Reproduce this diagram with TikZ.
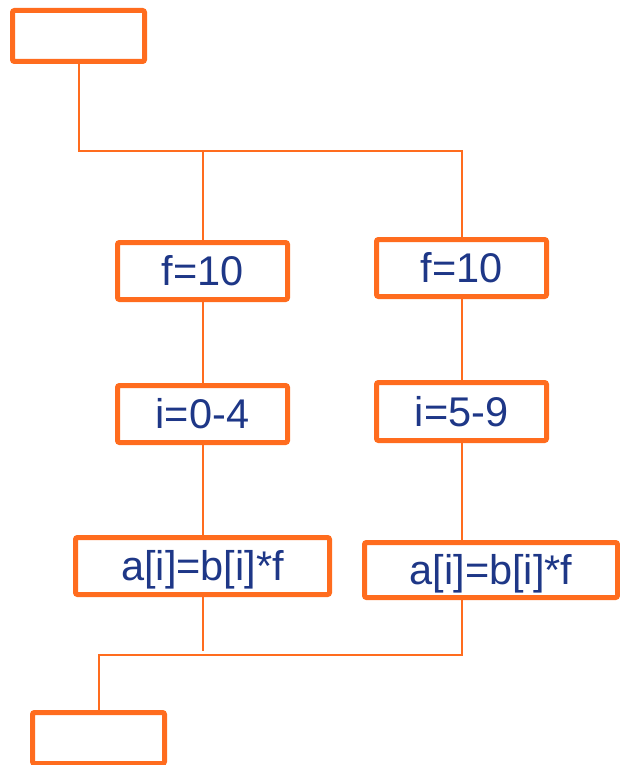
\documentclass[tikz,border=0pt]{standalone}
\usepackage{fontspec}
\setmainfont{Liberation Sans}
\definecolor{boxorange}{RGB}{255,108,30}
\definecolor{textnavy}{RGB}{30,55,135}
\pgfdeclarelayer{wires}
\pgfsetlayers{wires,main}
\begin{document}
\begin{tikzpicture}[x=1pt,y=-1pt,
  stepbox/.style={draw=boxorange, line width=5pt, rounded corners=2pt, fill=white,
    inner sep=0pt, minimum height=57pt, text=textnavy,
    font=\fontsize{41.5}{48}\selectfont, text height=29.5pt, text depth=0pt},
  emptybox/.style={stepbox, minimum width=132pt, minimum height=51pt},
  link/.style={draw=boxorange, line width=2pt}]
\useasboundingbox (0,0) rectangle (619,765);

% serial start, two parallel branches, serial end
\node[emptybox] (start) at (78.5,36) {};
\node[stepbox, minimum width=170pt] (lf) at (202.5,271) {f=10};
\node[stepbox, minimum width=170pt] (li) at (202.5,414) {i=0-4};
\node[stepbox, minimum width=254pt] (la) at (202.5,566) {a[i]=b[i]*f};
\node[stepbox, minimum width=170pt] (rf) at (461.5,268) {f=10};
\node[stepbox, minimum width=170pt, minimum height=58pt] (ri) at (461.5,411.5) {i=5-9};
\node[stepbox, minimum width=253pt, minimum height=55pt] (ra) at (491,570) {a[i]=b[i]*f};
\node[emptybox] (stop) at (98.5,738) {};

\coordinate (split) at (202.5,151);
\coordinate (lend) at (202.5,651);
\coordinate (join) at (461.5,655);

% connectors, kept behind the boxes
\begin{pgfonlayer}{wires}
\path[link] (start.south) -- (start.south |- split) -| (rf.north);
\path[link] (split) -- (lf.north);
\path[link] (lf.south) -- (li.north);
\path[link] (li.south) -- (la.north);
\path[link] (rf.south) -- (ri.north);
\path[link] (ri.south) -- (ri.south |- ra.north);
\path[link] (la.south) -- (lend);
\path[link] (ri.south |- ra.south) -- (join) -| (stop.north);
\end{pgfonlayer}
\end{tikzpicture}
\end{document}
